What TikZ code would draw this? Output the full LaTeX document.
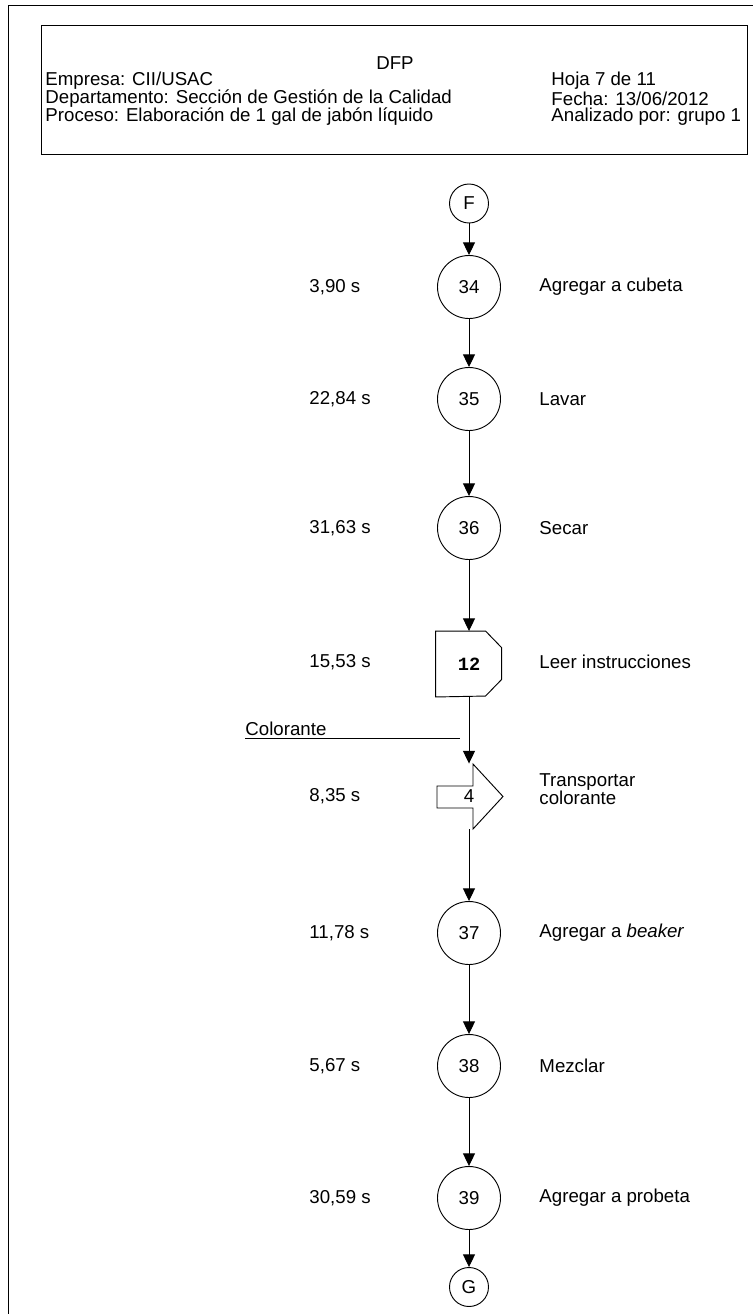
\documentclass[tikz,border=0pt]{standalone}
\usepackage{fontspec}
\setmainfont{Liberation Sans}
\newfontfamily\delayfont{Liberation Mono}
\usetikzlibrary{arrows.meta}

\begin{document}
\begin{tikzpicture}[
  x=0.75pt, y=-0.75pt,
  font=\fontsize{14}{13.5}\selectfont, line width=0.7pt,
  every node/.style={inner sep=0pt},
  op/.style={circle, draw, minimum size=47.25pt},
  conn/.style={circle, draw, minimum size=29.25pt},
  symbox/.style={minimum width=49.5pt, minimum height=48.75pt},
  flow/.style={-{Triangle[length=9.5pt,width=9pt]}},
  time/.style={anchor=west},
  desc/.style={anchor=west, align=left}
]
\useasboundingbox (0,0) rectangle (753,1314);
% page frame and header
\draw (8,1314) -- (8,5.5) -- (753,5.5);
\draw (41,25) rectangle (747,154);
\node (title) at (395,63) {DFP};
\node[anchor=west] (empresa) at (45,81) {Empresa: CII/USAC};
\node[anchor=west] (depto) at (45,99) {Departamento: Sección de Gestión de la Calidad};
\node[anchor=west] (proceso) at (45,117) {Proceso: Elaboración de 1 gal de jabón líquido};
\node[anchor=west] (hoja) at (551,81) {Hoja 7 de 11};
\node[anchor=west] (fecha) at (551,99) {Fecha: 13/06/2012};
\node[anchor=west] (analiz) at (551,117) {Analizado por: grupo 1};

% connectors in and out
\node[conn] (nF) at (469,203.5) {F};
\node[conn] (nG) at (469,1287) {G};

% operations
\foreach \n/\y/\t/\d in {34/287/{3,90 s}/{Agregar a cubeta},
    35/399/{22,84 s}/{Lavar},
    36/528/{31,63 s}/{Secar},
    37/933/{11,78 s}/{Agregar a \textit{beaker}},
    38/1066/{5,67 s}/{Mezclar},
    39/1198/{30,59 s}/{Agregar a probeta}} {
  \node[op] (n\n) at (469,\y) {\n};
  \node[time] (t\n) at (309,\y) {\t};
  \node[desc] (d\n) at (539,\y) {\d};
}

% delay 12
\node[symbox] (d12) at (469,664) {\delayfont\bfseries 12};
\draw (d12.north west) -- ++(50,0) -- ++(16,16.5) -- ++(0,32) -- ++(-16,16.5) -- (d12.south west) -- cycle;
\node[time] (t12) at (309,662) {15,53 s};
\node[desc] (dd12) at (539,662) {Leer instrucciones};

% transport 4
\node[symbox] (tr4) at (469,796.5) {4};
\draw (tr4.center) ++(4,-32.5) -- ++(30,32.5) -- ++(-30,32.5) -- ++(0,-21) -- ++(-36,0) -- ++(0,-22) -- ++(36,0) -- cycle;
\node[time] (ttr4) at (309,796.5) {8,35 s};
\node[desc] (dtr4) at (539,789) {Transportar\\colorante};

% material coming in
\node[anchor=base west] (colo) at (245,735) {Colorante};
\coordinate (coloA) at (245,738);
\coordinate (coloB) at (460,738);
\draw (coloA) -- (coloB);

% flow
\draw[flow] (nF) -- (n34);
\draw[flow] (n34) -- (n35);
\draw[flow] (n35) -- (n36);
\draw[flow] (n36) -- (d12);
\draw[flow] (d12) -- (tr4);
\draw[flow] (tr4) -- (n37);
\draw[flow] (n37) -- (n38);
\draw[flow] (n38) -- (n39);
\draw[flow] (n39) -- (nG);
\end{tikzpicture}
\end{document}
